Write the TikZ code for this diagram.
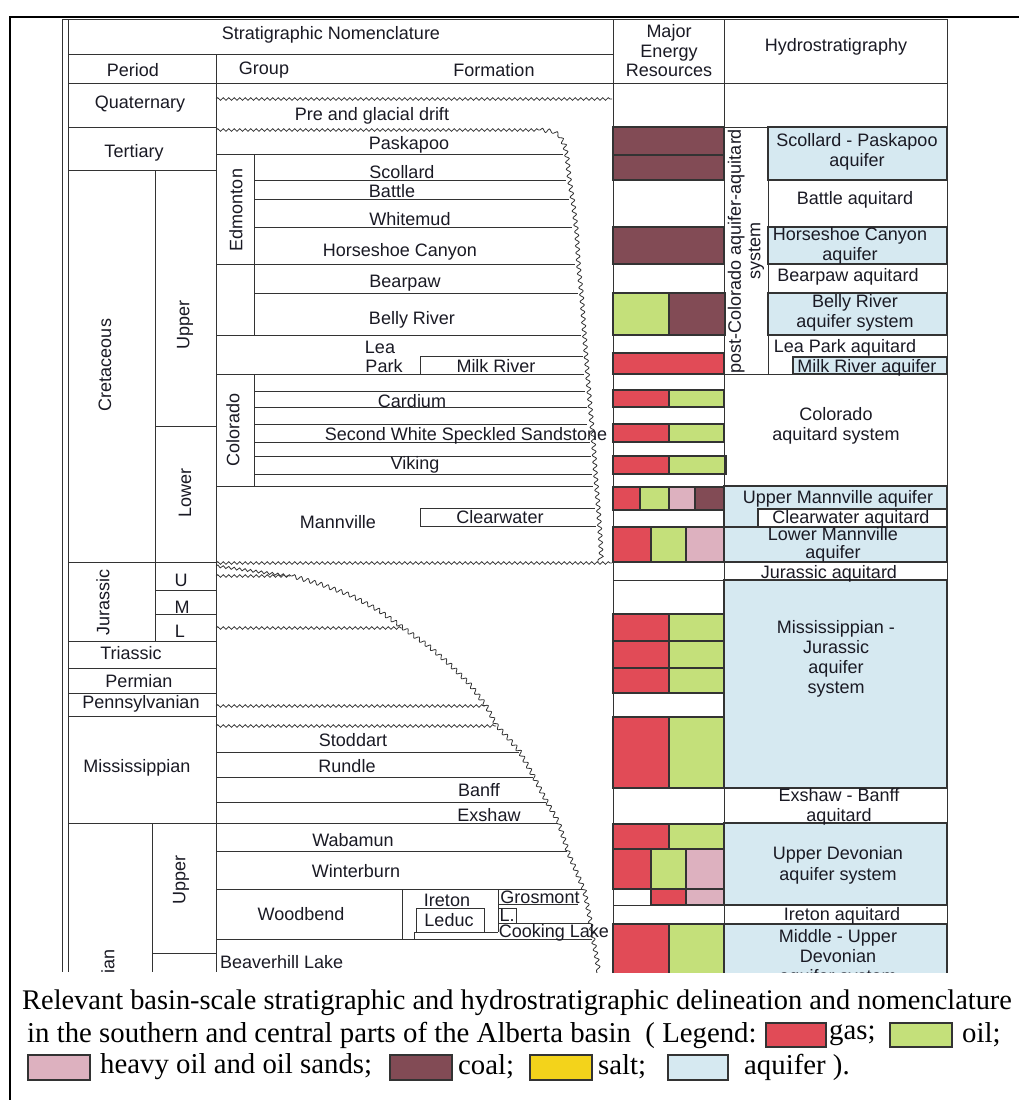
\documentclass[tikz,border=0pt]{standalone}
\usepackage{fontspec}
\setmainfont{Liberation Serif}
\setsansfont{Liberation Sans}
\newfontfamily\capfont{Liberation Serif}
\usetikzlibrary{decorations.pathmorphing}
\definecolor{gasc}{HTML}{E14B57}
\definecolor{oilc}{HTML}{C4E07A}
\definecolor{heavyc}{HTML}{DDB1BF}
\definecolor{coalc}{HTML}{824B55}
\definecolor{saltc}{HTML}{F3D31B}
\definecolor{aqc}{HTML}{D6E9F1}
\definecolor{linec}{HTML}{333333}
\definecolor{txtc}{HTML}{1A1A24}
\begin{document}
\begin{tikzpicture}[x=1pt,y=-1pt,
  tl/.style={draw=linec, line width=1pt},
  cell/.style={draw=linec, line width=1.4pt},
  wv/.style={draw=linec, line width=0.8pt, decorate, decoration={snake, segment length=5.5pt, amplitude=1.3pt}},
  wvj/.style={draw=linec, line width=0.8pt, decorate, decoration={snake, segment length=7pt, amplitude=2pt}},
  lbl/.style={font=\sffamily\fontsize{18}{19.5}\selectfont, text=txtc, inner sep=0pt},
  rlbl/.style={lbl, rotate=90},
  captxt/.style={font=\capfont\fontsize{28.8}{32}\selectfont, text=black, inner sep=0pt, anchor=west},
  lgd/.style={draw=linec, line width=1.4pt}
]
\useasboundingbox (0,0) rectangle (1019,1100);
\fill[white] (0,0) rectangle (1019,1100);
% outer frame
\draw[black, line width=2.2pt] (10,1100) -- (10,17) -- (1019,17);

\begin{scope}
\clip (0,0) rectangle (1019,972);
% ---------- fills in energy column ----------
\foreach \a/\b/\c/\d/\col in {
 613/127/724/155/coalc, 613/155/724/180/coalc, 613/227/724/264/coalc,
 613/293/669/335/oilc, 669/293/725/335/coalc, 613/353/724/374/gasc,
 613/390/669/407/gasc, 669/390/724/407/oilc,
 613/424/669/442/gasc, 669/424/724/442/oilc,
 613/456/669/474/gasc, 669/456/726/474/oilc,
 613/487/640/510/gasc, 640/487/669/510/oilc, 669/487/695/510/heavyc, 695/487/724/510/coalc,
 613/527/651/562/gasc, 651/527/686/562/oilc, 686/527/724/562/heavyc,
 613/614/669/641/gasc, 669/614/724/641/oilc,
 613/641/669/668/gasc, 669/641/724/668/oilc,
 613/668/669/693/gasc, 669/668/724/693/oilc,
 613/717/669/788/gasc, 669/717/724/788/oilc,
 613/824/669/849/gasc, 669/824/726/849/oilc,
 613/849/651/889/gasc, 651/849/686/889/oilc, 686/849/724/889/heavyc,
 651/889/686/905/gasc, 686/889/724/905/heavyc,
 613/924/669/990/gasc, 669/924/724/990/oilc}
 \draw[cell, fill=\col] (\a,\b) rectangle (\c,\d);

% ---------- hydro fills ----------
\foreach \a/\b/\c/\d in {768/127/947/180, 768/227/947/264, 768/293/947/335, 793/357/947/374,
  724/486/947/527, 724/527/947/562, 724/580/947/788, 724/823/947/905, 724/924/947/990}
 \draw[cell, fill=aqc] (\a,\b) rectangle (\c,\d);
\draw[cell, fill=white] (758,509) rectangle (947,527);

% ---------- table frame ----------
\draw[tl] (62,19) -- (62,972);
\draw[tl] (68,19) -- (68,972);
\draw[tl] (62,19) -- (947,19) -- (947,972);
\draw[tl] (613,19) -- (613,972);
\draw[tl] (724,19) -- (724,972);
\draw[tl] (68,54) -- (613,54);
\draw[tl] (68,83) -- (947,83);
\draw[tl] (216,54) -- (216,972);
% period column
\foreach \y in {127,170,562,641,668,693,716,823}
  \draw[tl] (68,\y) -- (216,\y);
\draw[tl] (155,170) -- (155,641);
\draw[tl] (155,426) -- (216,426);
\draw[tl] (155,590) -- (216,590);
\draw[tl] (155,614) -- (216,614);
\draw[tl] (152,823) -- (152,972);
\draw[tl] (152,953) -- (216,953);
% energy and hydro row lines
\foreach \y in {127,180,227,264,293,335,353,374,390,407,424,442,456,474,486,510,527,562,580,614,693,717,788,823,849,889,905,924}
  \draw[tl] (613,\y) -- (724,\y);
\foreach \y in {127,374,486,562,580,788,823,905,924}
  \draw[tl] (724,\y) -- (947,\y);
\draw[tl] (768,127) -- (768,374);
\foreach \y in {180,227,264,293,335}
  \draw[tl] (768,\y) -- (947,\y);

% ---------- Cretaceous formations ----------
\draw[tl] (254,154) -- (254,335);
\draw[tl] (254,374) -- (254,486);
\draw[tl] (216,154) -- (563,154);
\draw[tl] (254,180) -- (566,180);
\draw[tl] (254,199) -- (569,199);
\draw[tl] (254,227) -- (572,227);
\draw[tl] (216,264) -- (575,264);
\draw[tl] (254,293) -- (578,293);
\draw[tl] (216,335) -- (581,335);
\draw[tl] (420,374) -- (420,356) -- (583,356);
\draw[tl] (216,374) -- (584,374);
\draw[tl] (254,391) -- (585,391);
\draw[tl] (254,407) -- (587,407);
\draw[tl] (254,424) -- (587,424);
\draw[tl] (254,442) -- (590,442);
\draw[tl] (254,456) -- (591,456);
\draw[tl] (254,474) -- (592,474);
\draw[tl] (216,486) -- (593,486);
\draw[tl] (595,508) -- (420,508) -- (420,526) -- (596,526);
% wavy lines
\draw[wv] (216,99) -- (612,99);
\draw[wv] (216,130) -- (540,130);
\draw[wvj] (540,130) -- (550,131) -- (556,135) -- (561,145) -- (564,160) -- (566,180) -- (570,205) -- (573,230) -- (575,265) -- (578,293) -- (581,335) -- (584,374) -- (587,410) -- (590,442) -- (592,474) -- (595,510) -- (597,540) -- (598,562);
\draw[wv] (216,563) -- (612,563);

% ---------- Jurassic - Devonian ----------
\draw[wv] (216,566) -- (290,576);
\draw[wv] (216,576) -- (292,576);
\draw[wvj] (292,576) -- (320,584) -- (350,595) -- (378,610) -- (403,628) -- (428,646) -- (450,665) -- (470,685) -- (485,705) -- (496,726) -- (508,739) -- (519,752) -- (533,777) -- (546,802) -- (558,823) -- (567,851) -- (575,870) -- (583,889) -- (588,914) -- (592,939) -- (596,960) -- (598,975);
\draw[wv] (216,628) -- (403,628);
\draw[wv] (216,706) -- (485,706);
\draw[wv] (216,726) -- (496,726);
\draw[tl] (216,752) -- (519,752);
\draw[tl] (216,777) -- (533,777);
\draw[tl] (216,802) -- (546,802);
\draw[tl] (216,823) -- (558,823);
\draw[tl] (216,851) -- (567,851);
\draw[tl] (216,889) -- (583,889);
\draw[tl] (216,939) -- (592,939);
\draw[tl] (402,889) -- (402,939);
\draw[tl] (416,908) rectangle (484,932);
\draw[tl] (414,939) -- (414,932) -- (498,932);
\draw[tl] (498,889) -- (498,932);
\draw[tl] (498,904) -- (578,904);
\draw[tl] (498,908) rectangle (516,923);
\draw[tl] (516,923) -- (590,923);

% ---------- texts: header ----------
\node[lbl] (hSN) at (331,35) {Stratigraphic Nomenclature};
\node[lbl] (hPer) at (133,70) {Period};
\node[lbl] (hGrp) at (264,70) {Group};
\node[lbl] (hFm) at (494,70) {Formation};
\node[lbl, align=center] (hMER) at (669,51) {Major\\Energy\\Resources};
\node[lbl] (hHyd) at (836,47) {Hydrostratigraphy};
% periods
\node[lbl] (pQ) at (140,104) {Quaternary};
\node[lbl] (pT) at (134,153) {Tertiary};
\node[rlbl] (pK) at (105,365) {Cretaceous};
\node[rlbl] (pKU) at (185,325) {Upper};
\node[rlbl] (pKL) at (185,493) {Lower};
\node[rlbl] (pJ) at (103,602) {Jurassic};
\node[lbl] (pJU) at (181,580) {U};
\node[lbl] (pJM) at (182,607) {M};
\node[lbl] (pJL) at (180,631) {L};
\node[lbl] (pTr) at (131,653) {Triassic};
\node[lbl] (pPe) at (139,681) {Permian};
\node[lbl] (pPn) at (141,704) {Pennsylvanian};
\node[lbl] (pMi) at (137,768) {Mississippian};
\node[rlbl] (pD) at (108,987) {Devonian};
\node[rlbl] (pDU) at (181,880) {Upper};
% groups
\node[rlbl] (gEd) at (236,210) {Edmonton};
\node[rlbl] (gCo) at (233,430) {Colorado};
% formations
\node[lbl] (fPg) at (372,116) {Pre and glacial drift};
\node[lbl] (fPa) at (409,145) {Paskapoo};
\node[lbl] (fSc) at (402,172) {Scollard};
\node[lbl] (fBa) at (392,191) {Battle};
\node[lbl] (fWh) at (410,219) {Whitemud};
\node[lbl] (fHC) at (400,252) {Horseshoe Canyon};
\node[lbl] (fBp) at (405,283) {Bearpaw};
\node[lbl] (fBR) at (412,320) {Belly River};
\node[lbl] (fLea) at (380,347) {Lea};
\node[lbl] (fPark) at (384,366) {Park};
\node[lbl] (fMR) at (496,366) {Milk River};
\node[lbl] (fCa) at (412,401) {Cardium};
\node[lbl] (fSW) at (466,436) {Second White Speckled Sandstone};
\node[lbl] (fVi) at (415,465) {Viking};
\node[lbl] (fMa) at (338,522) {Mannville};
\node[lbl] (fCw) at (500,517) {Clearwater};
\node[lbl] (fSt) at (353,740) {Stoddart};
\node[lbl] (fRu) at (347,766) {Rundle};
\node[lbl] (fBf) at (479,790) {Banff};
\node[lbl] (fEx) at (489,815) {Exshaw};
\node[lbl] (fWa) at (353,840) {Wabamun};
\node[lbl] (fWi) at (356,871) {Winterburn};
\node[lbl] (fWo) at (301,914) {Woodbend};
\node[lbl] (fIr) at (447,900) {Ireton};
\node[lbl] (fLe) at (449,920) {Leduc};
\node[lbl] (fGr) at (540,897) {Grosmont};
\node[lbl] (fL) at (507,915) {L.};
\node[lbl] (fCL) at (554,933) {Cooking Lake};
\node[lbl, anchor=west] (fBH) at (220,962) {Beaverhill Lake};
% hydrostratigraphy
\node[rlbl, align=center] (hyPC) at (746,251) {post-Colorado aquifer-aquitard\\system};
\node[lbl, align=center] (hySP) at (857,152) {Scollard - Paskapoo\\aquifer};
\node[lbl] (hyBa) at (855,200) {Battle aquitard};
\node[lbl, align=center] (hyHC) at (850,246) {Horseshoe Canyon\\aquifer};
\node[lbl] (hyBp) at (848,277) {Bearpaw aquitard};
\node[lbl, align=center] (hyBR) at (855,313) {Belly River\\aquifer system};
\node[lbl] (hyLP) at (845,348) {Lea Park aquitard};
\node[lbl] (hyMR) at (867,368) {Milk River aquifer};
\node[lbl, align=center] (hyCo) at (836,426) {Colorado\\aquitard system};
\node[lbl] (hyUM) at (838,499) {Upper Mannville aquifer};
\node[lbl] (hyCw) at (851,519) {Clearwater aquitard};
\node[lbl, align=center, font=\sffamily\fontsize{18}{17.5}\selectfont] (hyLM) at (833,545) {Lower Mannville\\aquifer};
\node[lbl] (hyJu) at (829,573.5) {Jurassic aquitard};
\node[lbl, align=center, font=\sffamily\fontsize{18}{20}\selectfont] (hyMJ) at (836,659) {Mississippian -\\Jurassic\\aquifer\\system};
\node[lbl, align=center] (hyEB) at (839,807) {Exshaw - Banff\\aquitard};
\node[lbl, align=center, font=\sffamily\fontsize{18}{21}\selectfont] (hyUD) at (838,865) {Upper Devonian\\aquifer system};
\node[lbl] (hyIr) at (842,916) {Ireton aquitard};
\node[lbl, align=center, font=\sffamily\fontsize{18}{20}\selectfont] (hyMD) at (838,958) {Middle - Upper\\Devonian\\aquifer system};
\end{scope}

% ---------- caption ----------
\node[captxt, font=\capfont\fontsize{28.4}{32}\selectfont] (c1) at (22,1003) {Relevant basin-scale stratigraphic and hydrostratigraphic delineation and nomenclature};
\node[captxt] (c2) at (27,1035) {in the southern and central parts of the Alberta basin \ ( Legend:};
\draw[lgd, fill=gasc] (766,1023) rectangle (826,1047);
\node[captxt] (c2g) at (829,1035) {gas;};
\draw[lgd, fill=oilc] (890,1023) rectangle (952,1047);
\node[captxt] (c2o) at (962,1035) {oil;};
\draw[lgd, fill=heavyc] (28,1055) rectangle (90,1080);
\node[captxt] (c3h) at (100,1067) {heavy oil and oil sands;};
\draw[lgd, fill=coalc] (390,1055) rectangle (452,1080);
\node[captxt] (c3c) at (458,1067) {coal;};
\draw[lgd, fill=saltc] (530,1055) rectangle (592,1080);
\node[captxt] (c3s) at (598,1067) {salt;};
\draw[lgd, fill=aqc] (668,1055) rectangle (728,1080);
\node[captxt] (c3a) at (744,1067) {aquifer ).};
\end{tikzpicture}
\end{document}
